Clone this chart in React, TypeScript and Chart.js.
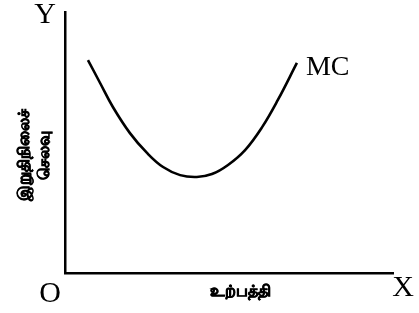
import React, { useEffect, useRef } from "react";
import { Chart, registerables } from "chart.js";

Chart.register(...registerables);

const xValues = [7.0, 10.7, 14.6, 19.8, 25.0, 29.9, 35.1, 40.2, 44.8, 49.7, 54.9, 60.1, 64.9, 70.7];
const mcValues = [81.6, 72.8, 63.6, 53.6, 46.0, 40.6, 37.5, 36.8, 37.9, 41.4, 47.1, 55.9, 66.3, 80.5];
const curveLabel = "MC";
const yAxisLabelLines = ["இறுதிநிலைச்", "செலவு"];
const xAxisLabel = "உற்பத்தி";
const originLabel = "O";
const xLetter = "X";
const yLetter = "Y";

const labelsPlugin = {
  id: "diagramLabels",
  afterDraw(chart: any) {
    const { ctx, chartArea } = chart;
    const xs = chart.scales.x;
    const ys = chart.scales.y;
    ctx.save();
    ctx.fillStyle = "#000";
    ctx.strokeStyle = "#000";
    ctx.textAlign = "center";
    ctx.textBaseline = "middle";
    const serif = "'Liberation Serif', 'DejaVu Serif', serif";
    ctx.font = `30px ${serif}`;
    ctx.fillText(yLetter, chartArea.left - 20, chartArea.top + 3);
    ctx.fillText(originLabel, chartArea.left - 15, chartArea.bottom + 21);
    ctx.fillText(xLetter, chartArea.right + 10, chartArea.bottom + 15);
    // MC label near curve end
    const lastX = xs.getPixelForValue(xValues[xValues.length - 1]);
    const lastY = ys.getPixelForValue(mcValues[mcValues.length - 1]);
    ctx.textAlign = "left";
    ctx.font = `28px ${serif}`;
    ctx.fillText(curveLabel, lastX + 9, lastY + 5);
    // x axis label
    ctx.textAlign = "center";
    ctx.font = "bold 16px 'Noto Sans', 'DejaVu Sans', sans-serif";
    ctx.lineWidth = 0.7;
    ctx.fillText(xAxisLabel, 240, chartArea.bottom + 18);
    ctx.strokeText(xAxisLabel, 240, chartArea.bottom + 18);
    // y axis label (rotated)
    ctx.translate(34, 155);
    ctx.rotate(-Math.PI / 2);
    ctx.fillText(yAxisLabelLines[0], 0, -10);
    ctx.strokeText(yAxisLabelLines[0], 0, -10);
    ctx.fillText(yAxisLabelLines[1], 0, 10);
    ctx.strokeText(yAxisLabelLines[1], 0, 10);
    ctx.restore();
  },
};

export default function App() {
  const canvasRef = useRef<HTMLCanvasElement | null>(null);
  useEffect(() => {
    document.body.style.margin = "0";
    const canvas = canvasRef.current!;
    const chart = new Chart(canvas, {
      type: "line",
      data: {
        datasets: [
          {
            label: curveLabel,
            data: xValues.map((x, i) => ({ x, y: mcValues[i] })),
            borderColor: "#000",
            borderWidth: 2.6,
            pointRadius: 0,
            tension: 0.4,
            fill: false,
          },
        ],
      },
      options: {
        animation: false,
        responsive: false,
        maintainAspectRatio: false,
        layout: { padding: { left: 57, right: 26, top: 12, bottom: 32 } },
        plugins: { legend: { display: false }, tooltip: { enabled: false } },
        scales: {
          x: {
            type: "linear",
            min: 0,
            max: 100,
            grid: { display: false },
            ticks: { display: false },
            border: { display: true, color: "#000", width: 2.5 },
          },
          y: {
            type: "linear",
            min: 0,
            max: 100,
            grid: { display: false },
            ticks: { display: false },
            border: { display: true, color: "#000", width: 2.5 },
          },
        },
      },
      plugins: [labelsPlugin],
    });
    return () => chart.destroy();
  }, []);
  return (
    <div style={{ width: 419, height: 313, background: "#fff" }}>
      <canvas ref={canvasRef} width={419} height={313} />
    </div>
  );
}
